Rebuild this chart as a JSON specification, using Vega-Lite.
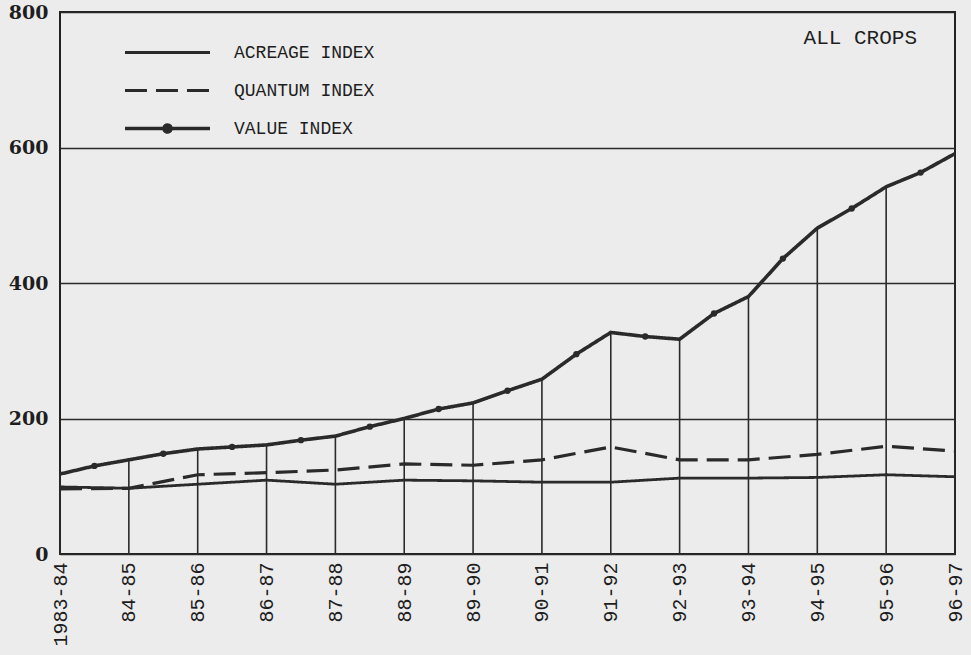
{
  "$schema": "https://vega.github.io/schema/vega-lite/v6.json",
  "width": 895,
  "height": 542,
  "autosize": "none",
  "padding": {"left": 60, "top": 12, "right": 16, "bottom": 101},
  "background": "#ececec",
  "config": {
    "view": {"stroke": "#222222", "strokeWidth": 2},
    "font": "Liberation Mono"
  },
  "title": {
    "text": "ALL CROPS",
    "anchor": "end",
    "frame": "group",
    "orient": "top",
    "offset": -45,
    "dx": -38,
    "font": "Liberation Mono",
    "fontSize": 21,
    "fontWeight": "normal",
    "color": "#1e1e1e"
  },
  "data": {
    "values": [
      {"year": 1983, "series": "VALUE INDEX", "value": 118},
      {"year": 1983.5, "series": "VALUE INDEX", "value": 130},
      {"year": 1984, "series": "VALUE INDEX", "value": 139},
      {"year": 1984.5, "series": "VALUE INDEX", "value": 148},
      {"year": 1985, "series": "VALUE INDEX", "value": 155},
      {"year": 1985.5, "series": "VALUE INDEX", "value": 158},
      {"year": 1986, "series": "VALUE INDEX", "value": 161},
      {"year": 1986.5, "series": "VALUE INDEX", "value": 168},
      {"year": 1987, "series": "VALUE INDEX", "value": 174},
      {"year": 1987.5, "series": "VALUE INDEX", "value": 188},
      {"year": 1988, "series": "VALUE INDEX", "value": 200},
      {"year": 1988.5, "series": "VALUE INDEX", "value": 214},
      {"year": 1989, "series": "VALUE INDEX", "value": 223},
      {"year": 1989.5, "series": "VALUE INDEX", "value": 241},
      {"year": 1990, "series": "VALUE INDEX", "value": 258},
      {"year": 1990.5, "series": "VALUE INDEX", "value": 295},
      {"year": 1991, "series": "VALUE INDEX", "value": 327},
      {"year": 1991.5, "series": "VALUE INDEX", "value": 321},
      {"year": 1992, "series": "VALUE INDEX", "value": 317},
      {"year": 1992.5, "series": "VALUE INDEX", "value": 355},
      {"year": 1993, "series": "VALUE INDEX", "value": 380},
      {"year": 1993.5, "series": "VALUE INDEX", "value": 436},
      {"year": 1994, "series": "VALUE INDEX", "value": 481},
      {"year": 1994.5, "series": "VALUE INDEX", "value": 510},
      {"year": 1995, "series": "VALUE INDEX", "value": 542},
      {"year": 1995.5, "series": "VALUE INDEX", "value": 563},
      {"year": 1996, "series": "VALUE INDEX", "value": 591},
      {"year": 1983, "series": "QUANTUM INDEX", "value": 96},
      {"year": 1984, "series": "QUANTUM INDEX", "value": 97},
      {"year": 1985, "series": "QUANTUM INDEX", "value": 117},
      {"year": 1986, "series": "QUANTUM INDEX", "value": 120},
      {"year": 1987, "series": "QUANTUM INDEX", "value": 124},
      {"year": 1988, "series": "QUANTUM INDEX", "value": 133},
      {"year": 1989, "series": "QUANTUM INDEX", "value": 131},
      {"year": 1990, "series": "QUANTUM INDEX", "value": 139},
      {"year": 1991, "series": "QUANTUM INDEX", "value": 158},
      {"year": 1992, "series": "QUANTUM INDEX", "value": 139},
      {"year": 1993, "series": "QUANTUM INDEX", "value": 139},
      {"year": 1994, "series": "QUANTUM INDEX", "value": 147},
      {"year": 1995, "series": "QUANTUM INDEX", "value": 159},
      {"year": 1996, "series": "QUANTUM INDEX", "value": 152},
      {"year": 1983, "series": "ACREAGE INDEX", "value": 99},
      {"year": 1984, "series": "ACREAGE INDEX", "value": 97},
      {"year": 1985, "series": "ACREAGE INDEX", "value": 103},
      {"year": 1986, "series": "ACREAGE INDEX", "value": 109},
      {"year": 1987, "series": "ACREAGE INDEX", "value": 103},
      {"year": 1988, "series": "ACREAGE INDEX", "value": 109},
      {"year": 1989, "series": "ACREAGE INDEX", "value": 108},
      {"year": 1990, "series": "ACREAGE INDEX", "value": 106},
      {"year": 1991, "series": "ACREAGE INDEX", "value": 106},
      {"year": 1992, "series": "ACREAGE INDEX", "value": 112},
      {"year": 1993, "series": "ACREAGE INDEX", "value": 112},
      {"year": 1994, "series": "ACREAGE INDEX", "value": 113},
      {"year": 1995, "series": "ACREAGE INDEX", "value": 117},
      {"year": 1996, "series": "ACREAGE INDEX", "value": 114}
    ]
  },
  "encoding": {
    "x": {
      "field": "year",
      "type": "quantitative",
      "scale": {"domain": [1983, 1996], "nice": false, "zero": false},
      "axis": {
        "title": null,
        "values": [1983, 1984, 1985, 1986, 1987, 1988, 1989, 1990, 1991, 1992, 1993, 1994, 1995, 1996],
        "labelExpr": "['1983-84','84-85','85-86','86-87','87-88','88-89','89-90','90-91','91-92','92-93','93-94','94-95','95-96','96-97'][datum.value - 1983]",
        "labelAngle": -90,
        "labelFont": "Liberation Mono",
        "labelFontSize": 20,
        "labelColor": "#1e1e1e",
        "labelPadding": 8,
        "labelFlush": false,
        "labelOverlap": false,
        "ticks": false,
        "domain": false,
        "grid": false
      }
    },
    "y": {
      "field": "value",
      "type": "quantitative",
      "scale": {"domain": [0, 800], "nice": false},
      "axis": {
        "title": null,
        "values": [0, 200, 400, 600, 800],
        "labelFont": "DejaVu Serif",
        "labelFontWeight": "bold",
        "labelFontSize": 19,
        "labelColor": "#1e1e1e",
        "labelPadding": 12,
        "ticks": false,
        "domain": false,
        "grid": true,
        "gridColor": "#2a2a2a",
        "gridWidth": 1.3,
        "gridOpacity": 1
      }
    }
  },
  "layer": [
    {
      "transform": [{"filter": "datum.series == 'VALUE INDEX' && datum.year % 1 == 0"}],
      "mark": {"type": "rule", "color": "#2a2a2a", "strokeWidth": 1.6},
      "encoding": {"y2": {"datum": 0}}
    },
    {
      "mark": {"type": "line", "color": "#2a2a2a"},
      "encoding": {
        "detail": {"field": "series"},
        "strokeWidth": {
          "field": "series",
          "type": "nominal",
          "scale": {
            "domain": ["ACREAGE INDEX", "QUANTUM INDEX", "VALUE INDEX"],
            "range": [2.8, 3.6, 3.2]
          },
          "legend": null
        },
        "strokeDash": {
          "field": "series",
          "type": "nominal",
          "scale": {
            "domain": ["ACREAGE INDEX", "QUANTUM INDEX", "VALUE INDEX"],
            "range": [[1, 0], [22, 9], [1, 0]]
          },
          "legend": {
            "title": null,
            "orient": "none",
            "legendX": 95,
            "legendY": 28,
            "padding": 0,
            "symbolSize": 452,
            "symbolStrokeWidth": 3,
            "symbolStrokeColor": "#2a2a2a",
            "labelFont": "Liberation Mono",
            "labelFontSize": 18,
            "labelColor": "#1e1e1e",
            "labelOffset": 54,
            "rowPadding": 16,
            "encode": {
              "symbols": {
                "update": {
                  "shape": {"signal": "datum.value === 'VALUE INDEX' ? 'M-4,0H4M0.33,0A0.33,0.33 0 1 1 -0.33,0A0.33,0.33 0 1 1 0.33,0Z' : 'M-4,0H4'"},
                  "strokeDash": {"signal": "datum.value === 'QUANTUM INDEX' ? [26, 4] : [1, 0]"},
                  "fill": {"value": "#2a2a2a"},
                  "stroke": {"value": "#2a2a2a"},
                  "strokeWidth": {"value": 3}
                }
              }
            }
          }
        }
      }
    },
    {
      "transform": [{"filter": "datum.series == 'VALUE INDEX' && datum.year % 1 != 0"}],
      "mark": {"type": "point", "shape": "circle", "filled": true, "size": 40, "color": "#2a2a2a", "opacity": 1}
    }
  ]
}
